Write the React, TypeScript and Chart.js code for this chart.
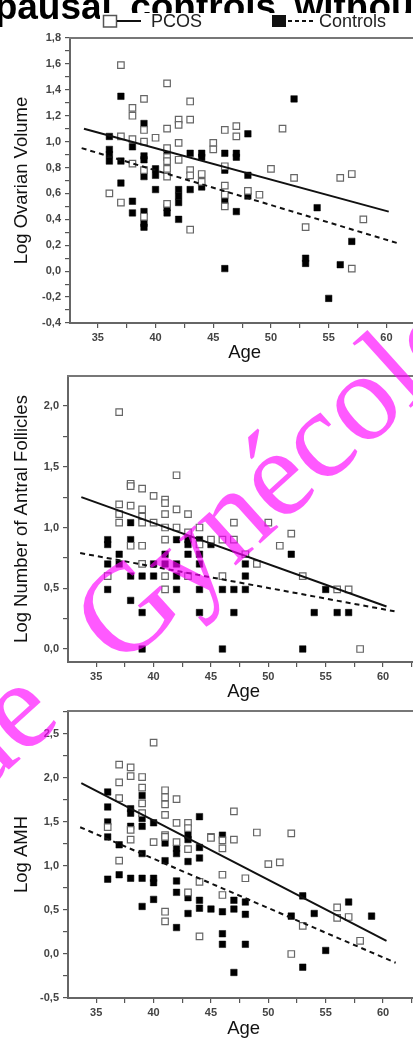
import { useEffect, useRef } from 'react';
import Chart from 'chart.js/auto';

type Pt = [number, number];

// ---------- Panel 1: Log Ovarian Volume ----------
const ovarianPcos: Pt[] = [
  [37, 1.59], [41, 1.45], [38, 1.26], [38, 1.2], [39, 1.33], [43, 1.31], [42, 1.17], [42, 1.13], [43, 1.17],
  [41, 1.1], [37, 1.04], [38, 1.02], [39, 1.09], [39, 1.0], [40, 1.03], [41, 0.95], [42, 0.99], [46, 1.09],
  [47, 1.12], [47, 1.04], [45, 0.99], [45, 0.94], [51, 1.1], [38, 0.83], [39, 0.78], [41, 0.88], [41, 0.85],
  [41, 0.79], [41, 0.73], [42, 0.86], [43, 0.78], [43, 0.74], [44, 0.75], [44, 0.69], [46, 0.81], [50, 0.79],
  [52, 0.72], [56, 0.72], [57, 0.75], [49, 0.59], [36, 0.6], [37, 0.53], [39, 0.42], [41, 0.52], [43, 0.32],
  [46, 0.66], [46, 0.59], [46, 0.5], [48, 0.62], [53, 0.34], [57, 0.02], [58, 0.4],
];
const ovarianControls: Pt[] = [
  [37, 1.35], [52, 1.33], [39, 1.14], [48, 1.06], [36, 1.04], [36, 0.94], [36, 0.9], [36, 0.85], [37, 0.85],
  [38, 0.96], [39, 0.89], [39, 0.86], [41, 0.93], [43, 0.91], [44, 0.91], [44, 0.88], [46, 0.91], [47, 0.91],
  [47, 0.88], [40, 0.79], [40, 0.74], [46, 0.78], [48, 0.74], [37, 0.68], [39, 0.73], [40, 0.63], [42, 0.63],
  [42, 0.58], [42, 0.53], [43, 0.63], [44, 0.65], [48, 0.58], [38, 0.54], [38, 0.45], [39, 0.46], [39, 0.37],
  [39, 0.34], [41, 0.49], [41, 0.45], [42, 0.4], [46, 0.54], [47, 0.46], [54, 0.49], [53, 0.1], [53, 0.06],
  [46, 0.02], [56, 0.05], [57, 0.23], [55, -0.21],
];
const ovarianPcosFit: Pt[] = [[33.8, 1.1], [60.2, 0.46]];
const ovarianControlsFit: Pt[] = [[33.6, 0.95], [61.2, 0.21]];

// ---------- Panel 2: Log Number of Antral Follicles ----------
const folliclePcos: Pt[] = [
  [37, 1.95], [42, 1.43], [38, 1.36], [38, 1.34], [39, 1.32], [40, 1.26], [41, 1.23], [41, 1.2], [37, 1.19],
  [38, 1.18], [39, 1.15], [42, 1.15], [43, 1.11], [37, 1.11], [39, 1.09], [41, 1.11], [37, 1.04], [39, 1.04],
  [40, 1.04], [41, 1.0], [42, 1.0], [44, 1.0], [47, 1.04], [50, 1.04], [52, 0.95], [43, 0.96], [41, 0.9],
  [45, 0.9], [46, 0.9], [47, 0.9], [38, 0.85], [39, 0.85], [44, 0.86], [51, 0.85], [48, 0.78], [39, 0.7],
  [49, 0.7], [36, 0.6], [41, 0.6], [43, 0.6], [46, 0.6], [53, 0.6], [41, 0.49], [56, 0.49], [57, 0.49], [58, 0.0],
];
const follicleControls: Pt[] = [
  [38, 1.04], [36, 0.9], [36, 0.86], [38, 0.9], [42, 0.9], [43, 0.9], [43, 0.86], [44, 0.9], [45, 0.86],
  [52, 0.78], [37, 0.78], [41, 0.78], [43, 0.78], [44, 0.78], [36, 0.7], [37, 0.7], [40, 0.7], [41, 0.7],
  [42, 0.7], [44, 0.7], [48, 0.7], [38, 0.6], [39, 0.6], [40, 0.6], [42, 0.6], [48, 0.6], [36, 0.49],
  [42, 0.49], [44, 0.49], [46, 0.49], [47, 0.49], [48, 0.49], [55, 0.49], [38, 0.4], [39, 0.3], [44, 0.3],
  [47, 0.3], [54, 0.3], [56, 0.3], [57, 0.3], [39, 0.0], [46, 0.0], [53, 0.0],
];
const folliclePcosFit: Pt[] = [[33.7, 1.25], [60.3, 0.35]];
const follicleControlsFit: Pt[] = [[33.6, 0.79], [61.0, 0.31]];

// ---------- Panel 3: Log AMH ----------
const amhPcos: Pt[] = [
  [40, 2.4], [37, 2.15], [38, 2.12], [38, 2.02], [39, 2.01], [37, 1.95], [39, 1.89], [37, 1.77], [41, 1.86],
  [41, 1.78], [41, 1.7], [42, 1.76], [39, 1.71], [47, 1.62], [39, 1.6], [41, 1.58], [42, 1.49], [43, 1.49],
  [43, 1.43], [49, 1.38], [52, 1.37], [45, 1.33], [47, 1.3], [36, 1.44], [38, 1.41], [41, 1.35], [38, 1.3],
  [40, 1.27], [41, 1.33], [42, 1.27], [43, 1.19], [45, 1.32], [46, 1.29], [46, 1.2], [37, 1.06], [44, 0.82],
  [46, 0.9], [48, 0.86], [50, 1.02], [51, 1.04], [43, 0.7], [46, 0.67], [56, 0.53], [56, 0.41], [57, 0.42],
  [41, 0.48], [41, 0.37], [44, 0.2], [53, 0.32], [58, 0.15], [52, 0.0],
];
const amhControls: Pt[] = [
  [36, 1.84], [39, 1.8], [36, 1.67], [38, 1.65], [38, 1.6], [44, 1.56], [39, 1.54], [39, 1.45], [40, 1.49],
  [36, 1.5], [38, 1.45], [46, 1.35], [43, 1.35], [36, 1.33], [37, 1.24], [39, 1.14], [41, 1.26], [42, 1.2],
  [42, 1.14], [43, 1.3], [43, 1.05], [44, 1.21], [44, 1.09], [41, 1.06], [36, 0.85], [37, 0.9], [38, 0.86],
  [39, 0.86], [40, 0.86], [40, 0.81], [42, 0.83], [42, 0.7], [43, 0.64], [44, 0.61], [47, 0.61], [48, 0.59],
  [53, 0.66], [57, 0.59], [54, 0.46], [52, 0.43], [59, 0.43], [39, 0.54], [40, 0.62], [43, 0.46], [44, 0.52],
  [45, 0.51], [46, 0.48], [47, 0.51], [48, 0.45], [42, 0.3], [46, 0.23], [46, 0.11], [48, 0.11], [55, 0.04],
  [53, -0.15], [47, -0.21],
];
const amhPcosFit: Pt[] = [[33.7, 1.94], [60.3, 0.15]];
const amhControlsFit: Pt[] = [[33.6, 1.44], [61.1, -0.1]];

// ---------- Text ----------
const xTitle = 'Age';
const panelTitles = ['Log Ovarian Volume', 'Log Number of Antral Follicles', 'Log AMH'];
const legendLabels = ['PCOS', 'Controls'];
const headerText = 'menopausal controls without';
const watermarkWords = ['de ', 'Gynécologie'];

const FONT = "'Liberation Sans', Arial, sans-serif";

interface PanelCfg {
  pcos: Pt[];
  controls: Pt[];
  pcosFit: Pt[];
  controlsFit: Pt[];
  title: string;
  xMin: number;
  xMax: number;
  yMin: number;
  yMax: number;
  yStep: number;
  yLabelStep: number;
  leftW: number;
  bottomH: number;
  padTop: number;
  xTitlePad: number;
}

const topFrame = {
  id: 'topFrame',
  afterDraw(chart: any) {
    const { ctx, chartArea } = chart;
    ctx.save();
    ctx.strokeStyle = '#777';
    ctx.lineWidth = 2;
    ctx.beginPath();
    ctx.moveTo(chartArea.left - 1, chartArea.top);
    ctx.lineTo(chartArea.right + 5, chartArea.top);
    ctx.stroke();
    ctx.restore();
  },
};

const toXY = (p: Pt[]) => p.map(([x, y]) => ({ x, y }));

function makeChart(canvas: HTMLCanvasElement, c: PanelCfg) {
  const isMult = (v: number, s: number) => Math.abs(v / s - Math.round(v / s)) < 1e-6;
  return new Chart(canvas, {
    type: 'scatter',
    data: {
      datasets: [
        {
          type: 'line',
          data: toXY(c.pcosFit),
          borderColor: '#111',
          borderWidth: 2,
          pointRadius: 0,
          fill: false,
        } as any,
        {
          type: 'line',
          data: toXY(c.controlsFit),
          borderColor: '#111',
          borderWidth: 2,
          borderDash: [5, 4],
          pointRadius: 0,
          fill: false,
        } as any,
        {
          data: toXY(c.pcos),
          pointStyle: 'rect',
          pointRadius: 4.6,
          backgroundColor: '#fff',
          borderColor: '#666',
          borderWidth: 1.2,
        },
        {
          data: toXY(c.controls),
          pointStyle: 'rect',
          pointRadius: 4.6,
          backgroundColor: '#000',
          borderColor: '#000',
          borderWidth: 0.5,
        },
      ],
    },
    options: {
      animation: false,
      responsive: false,
      maintainAspectRatio: false,
      devicePixelRatio: 1,
      events: [],
      layout: { padding: { top: c.padTop, left: 0, right: 0, bottom: 0 } },
      plugins: { legend: { display: false }, tooltip: { enabled: false } },
      scales: {
        x: {
          type: 'linear',
          min: c.xMin,
          max: c.xMax,
          afterFit: (s: any) => {
            s.height = c.bottomH;
          },
          ticks: {
            stepSize: 2.5,
            includeBounds: false,
            maxTicksLimit: 100,
            autoSkip: false,
            maxRotation: 0,
            padding: 3,
            color: '#444',
            font: { family: FONT, size: 11, weight: 'bold' },
            callback: (v: any) => (isMult(Number(v), 5) ? String(Math.round(Number(v))) : ''),
          },
          grid: { drawOnChartArea: false, drawTicks: true, tickLength: 5, color: '#555', lineWidth: 1.2 },
          border: { display: true, color: '#666', width: 2 },
          title: {
            display: true,
            text: xTitle,
            color: '#111',
            font: { family: FONT, size: 18.5 },
            padding: { top: c.xTitlePad, bottom: c.xTitlePad },
          },
        },
        y: {
          type: 'linear',
          min: c.yMin,
          max: c.yMax,
          afterFit: (s: any) => {
            s.width = c.leftW;
          },
          ticks: {
            stepSize: c.yStep,
            includeBounds: false,
            maxTicksLimit: 100,
            autoSkip: false,
            padding: 4,
            color: '#444',
            font: { family: FONT, size: 11, weight: 'bold' },
            callback: (v: any) =>
              isMult(Number(v), c.yLabelStep) ? Number(v).toFixed(1).replace('.', ',') : '',
          },
          grid: { drawOnChartArea: false, drawTicks: true, tickLength: 5, color: '#555', lineWidth: 1.2 },
          border: { display: true, color: '#666', width: 2 },
          title: {
            display: true,
            text: c.title,
            color: '#111',
            font: { family: FONT, size: 18.5 },
            padding: { top: 11, bottom: 11 },
          },
        },
      },
    } as any,
    plugins: [topFrame],
  });
}

const panels: PanelCfg[] = [
  {
    pcos: ovarianPcos, controls: ovarianControls, pcosFit: ovarianPcosFit, controlsFit: ovarianControlsFit,
    title: panelTitles[0], xMin: 32.59, xMax: 62.84, yMin: -0.4, yMax: 1.8, yStep: 0.1, yLabelStep: 0.2,
    leftW: 70, bottomH: 42, padTop: 38, xTitlePad: 0.5,
  },
  {
    pcos: folliclePcos, controls: follicleControls, pcosFit: folliclePcosFit, controlsFit: follicleControlsFit,
    title: panelTitles[1], xMin: 32.54, xMax: 63.15, yMin: -0.107, yMax: 2.247, yStep: 0.25, yLabelStep: 0.5,
    leftW: 68, bottomH: 45, padTop: 36, xTitlePad: 3.5,
  },
  {
    pcos: amhPcos, controls: amhControls, pcosFit: amhPcosFit, controlsFit: amhControlsFit,
    title: panelTitles[2], xMin: 32.54, xMax: 63.15, yMin: -0.5, yMax: 2.76, yStep: 0.25, yLabelStep: 0.5,
    leftW: 68, bottomH: 43, padTop: 21, xTitlePad: 0.5,
  },
];

const canvasBoxes = [
  { top: 0, height: 365 },
  { top: 340, height: 367 },
  { top: 690, height: 351 },
];

export default function App() {
  const r0 = useRef<HTMLCanvasElement>(null);
  const r1 = useRef<HTMLCanvasElement>(null);
  const r2 = useRef<HTMLCanvasElement>(null);

  useEffect(() => {
    const refs = [r0, r1, r2];
    const charts = refs.map((r, i) => makeChart(r.current as HTMLCanvasElement, panels[i]));
    return () => charts.forEach((ch) => ch.destroy());
  }, []);

  const refs = [r0, r1, r2];
  return (
    <div
      style={{
        position: 'fixed',
        left: 0,
        top: 0,
        width: 413,
        height: 1041,
        overflow: 'hidden',
        background: '#fff',
      }}
    >
      {canvasBoxes.map((b, i) => (
        <canvas
          key={i}
          ref={refs[i]}
          width={425}
          height={b.height}
          style={{ position: 'absolute', left: 0, top: b.top, width: 425, height: b.height }}
        />
      ))}
      <svg width={413} height={40} style={{ position: 'absolute', left: 0, top: 0 }}>
        <text
          x={-104}
          y={18.5}
          fontFamily={FONT}
          fontWeight="bold"
          fontSize={37}
          wordSpacing={8}
          fill="#000"
        >
          {headerText}
        </text>
        <rect x={100} y={13} width={313} height={23} fill="#fff" />
        <rect x={103.5} y={15.5} width={13} height={11.5} fill="#fff" stroke="#555" strokeWidth={1.5} />
        <line x1={117} x2={141} y1={21} y2={21} stroke="#111" strokeWidth={2} />
        <text x={151} y={27} fontFamily={FONT} fontSize={18} fill="#222">
          {legendLabels[0]}
        </text>
        <rect x={272} y={15} width={14} height={12} fill="#111" />
        <line x1={288} x2={316} y1={21} y2={21} stroke="#111" strokeWidth={2} strokeDasharray="4 3" />
        <text x={319} y={27} fontFamily={FONT} fontSize={18} fill="#222">
          {legendLabels[1]}
        </text>
      </svg>
      <svg
        width={413}
        height={1041}
        style={{ position: 'absolute', left: 0, top: 0, pointerEvents: 'none' }}
      >
        <text
          x={-24.4}
          y={799.6}
          transform="rotate(-42 -24.4 799.6)"
          fontFamily="'Liberation Serif', 'Times New Roman', serif"
          fontSize={125}
          fill="rgb(255,0,255)"
          fillOpacity={0.65}
        >
          <tspan>{watermarkWords[0]}</tspan>
          <tspan dx={45}>{watermarkWords[1]}</tspan>
        </text>
      </svg>
    </div>
  );
}
